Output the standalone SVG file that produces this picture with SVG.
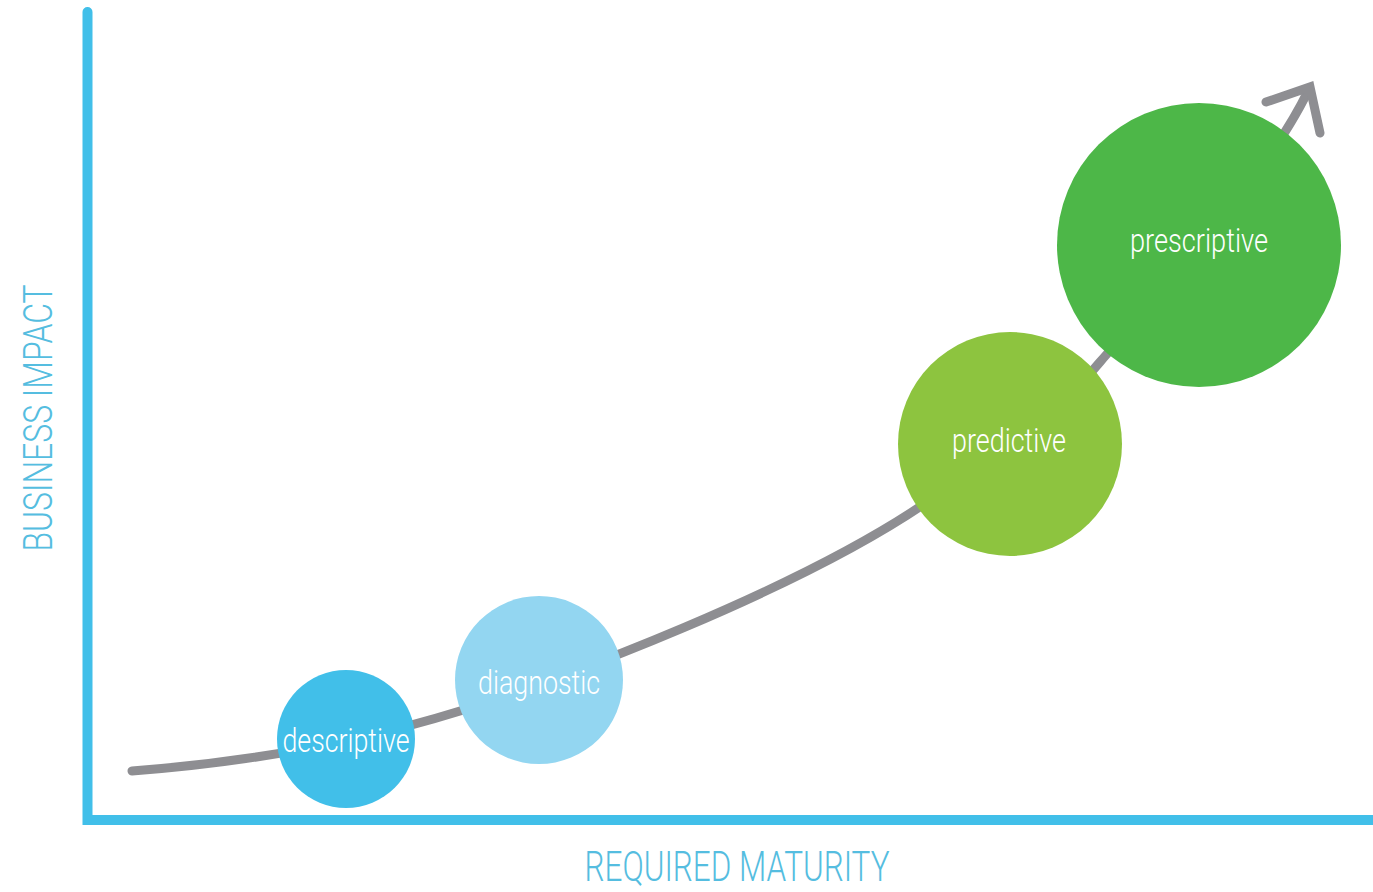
<svg xmlns="http://www.w3.org/2000/svg" width="1373" height="892" viewBox="0 0 1373 892">
  <style>
    .axis { stroke: #41bfe9; stroke-width: 10; fill: none; }
    .curve { stroke: #8e8e92; stroke-width: 9; fill: none; stroke-linecap: round; }
    .lbl { font-family: Roboto, "Liberation Sans", sans-serif; font-weight: 300; fill: #ffffff; text-anchor: middle; }
    .ax { font-family: Roboto, "Liberation Sans", sans-serif; font-weight: 300; fill: #55bde0; text-anchor: middle; }
  </style>
  <rect x="0" y="0" width="1373" height="892" fill="#ffffff"/>
  <g id="axes">
    <path class="axis" d="M87.5,12 L87.5,820 L1373,820" stroke-linecap="round"/>
  </g>
  <g id="connectors">
    <path class="curve" d="M132,771 C250,762 360,742 460,711 C560,680 800,590 930,500 C1000,452 1060,410 1100,362 C1180,270 1270,170 1308,91" stroke-linecap="butt"/>
    <polyline class="curve" points="1266,102 1310,87 1320,133" stroke-width="10" stroke-linecap="butt" stroke-linejoin="miter"/>
  </g>
  <g id="descriptive">
    <circle cx="346" cy="739" r="69" fill="#41bfe9"/>
    <text class="lbl" x="346" y="752" font-size="33" textLength="127" lengthAdjust="spacingAndGlyphs">descriptive</text>
  </g>
  <g id="diagnostic">
    <circle cx="539" cy="680" r="84" fill="#93d6f1"/>
    <text class="lbl" x="539" y="694" font-size="33" textLength="122" lengthAdjust="spacingAndGlyphs">diagnostic</text>
  </g>
  <g id="predictive">
    <circle cx="1010" cy="444" r="112" fill="#8dc43f"/>
    <text class="lbl" x="1009" y="452" font-size="33" textLength="114" lengthAdjust="spacingAndGlyphs">predictive</text>
  </g>
  <g id="prescriptive">
    <circle cx="1199" cy="245" r="142" fill="#4db748"/>
    <text class="lbl" x="1199" y="252" font-size="33" textLength="138" lengthAdjust="spacingAndGlyphs">prescriptive</text>
  </g>
  <g id="axis-labels">
    <text class="ax" x="737" y="881" font-size="43" textLength="305" lengthAdjust="spacingAndGlyphs">REQUIRED MATURITY</text>
    <text class="ax" x="0" y="0" font-size="41" textLength="267" lengthAdjust="spacingAndGlyphs" transform="translate(52,418) rotate(-90)">BUSINESS IMPACT</text>
  </g>
</svg>
